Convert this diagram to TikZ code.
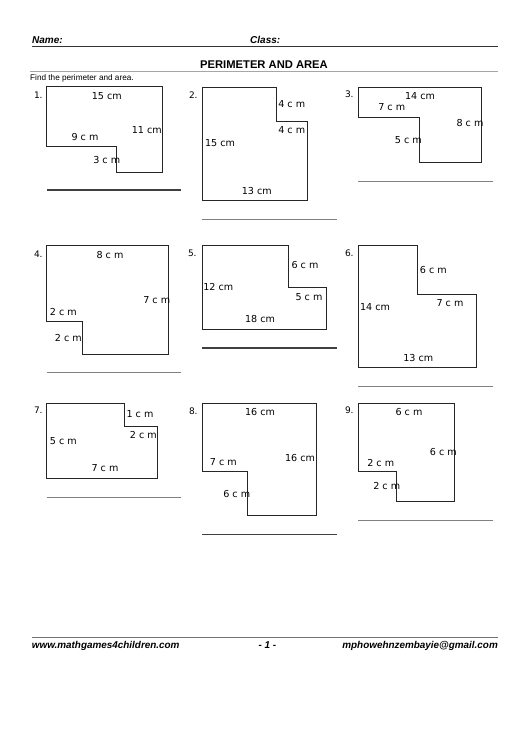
\documentclass[tikz,border=0pt]{standalone}
\usepackage{fontspec}
\setmainfont{DejaVu Sans}
\newfontfamily\headfont{Liberation Sans}
\begin{document}
\begin{tikzpicture}[x=1pt,y=-1pt,
  fig/.style={draw=black!85, line width=0.9pt, line join=miter},
  lab/.style={font=\fontsize{9.6}{11}\selectfont, inner sep=0pt},
  num/.style={font=\fontsize{9}{11}\selectfont, inner sep=0pt},
  hdr/.style={font=\headfont\bfseries\itshape\fontsize{10}{12}\selectfont, inner sep=0pt},
  ftr/.style={font=\headfont\bfseries\itshape\fontsize{9.9}{12}\selectfont, inner sep=0pt},
  ansl/.style={line width=0.9pt, draw=black!50},
  ansd/.style={line width=1.1pt, draw=black!75},
]
\useasboundingbox[fill=white] (0,0) rectangle (530,749);

% header
\node[hdr, anchor=west] (name) at (32,40) {Name:};
\node[hdr, anchor=west] (class) at (250,40) {Class:};
\draw[line width=1pt, black!80] (32,46.7) -- (498,46.7);
\node[font=\headfont\bfseries\fontsize{11.2}{13}\selectfont, inner sep=0pt] (title) at (264,64.5) {PERIMETER AND AREA};
\draw[line width=1.5pt, black!35] (30,71.7) -- (498,71.7);
\node[anchor=west, font=\headfont\fontsize{8.2}{10}\selectfont, inner sep=0pt] (instr) at (30,78) {Find the perimeter and area.};

% 1
\node[num] (n1) at (38.3,95) {1.};
\draw[fig] (46.7,86.7) -- (162.7,86.7) -- (162.7,172.3) -- (116,172.3) -- (116,146.7) -- (46.7,146.7) -- cycle;
\node[lab] (l1a) at (106.7,95.7) {15 cm};
\node[lab] (l1b) at (146.7,130) {11 cm};
\node[lab] (l1c) at (85,136.7) {9 c m};
\node[lab] (l1d) at (106.7,160) {3 c m};
\draw[ansd] (46.7,190) -- (180.7,190);

% 2
\node[num] (n2) at (193.3,95) {2.};
\draw[fig] (202.3,87.3) -- (276,87.3) -- (276,121.7) -- (307.3,121.7) -- (307.3,200) -- (202.3,200) -- cycle;
\node[lab] (l2a) at (291.7,104) {4 c m};
\node[lab] (l2b) at (291.7,130) {4 c m};
\node[lab] (l2c) at (220,143.3) {15 cm};
\node[lab] (l2d) at (256.7,191) {13 cm};
\draw[ansl] (202.3,219.3) -- (336.7,219.3);

% 3
\node[num] (n3) at (349.3,94) {3.};
\draw[fig] (358.3,87.3) -- (481,87.3) -- (481,162.3) -- (419,162.3) -- (419,117.3) -- (358.3,117.3) -- cycle;
\node[lab] (l3a) at (420,95.7) {14 cm};
\node[lab] (l3b) at (391.7,107.3) {7 c m};
\node[lab] (l3c) at (470,123.3) {8 c m};
\node[lab] (l3d) at (408.3,140) {5 c m};
\draw[ansl] (358.3,181) -- (492.7,181);

% 4
\node[num] (n4) at (38.3,254) {4.};
\draw[fig] (46.7,245.7) -- (168.3,245.7) -- (168.3,354) -- (82.7,354) -- (82.7,321) -- (46.7,321) -- cycle;
\node[lab] (l4a) at (110,255) {8 c m};
\node[lab] (l4b) at (156.7,300) {7 c m};
\node[lab] (l4c) at (63.3,311.7) {2 c m};
\node[lab] (l4d) at (68.3,338.3) {2 c m};
\draw[ansl] (46.7,372.3) -- (180.7,372.3);

% 5
\node[num] (n5) at (192.3,253.3) {5.};
\draw[fig] (202.3,245.7) -- (288.3,245.7) -- (288.3,287.3) -- (326.7,287.3) -- (326.7,329) -- (202.3,329) -- cycle;
\node[lab] (l5a) at (305,265) {6 c m};
\node[lab] (l5b) at (218.3,287.3) {12 cm};
\node[lab] (l5c) at (309,296.7) {5 c m};
\node[lab] (l5d) at (260,319.3) {18 cm};
\draw[ansd, line width=1.6pt] (202.3,347.7) -- (336.7,347.7);

% 6
\node[num] (n6) at (349.3,253.3) {6.};
\draw[fig] (358.3,245.7) -- (417.7,245.7) -- (417.7,294.3) -- (476.7,294.3) -- (476.7,367.7) -- (358.3,367.7) -- cycle;
\node[lab] (l6a) at (433.3,270) {6 c m};
\node[lab] (l6b) at (450,303.3) {7 c m};
\node[lab] (l6c) at (375,306.7) {14 cm};
\node[lab] (l6d) at (418.3,358.3) {13 cm};
\draw[ansl] (358.3,386.7) -- (492.7,386.7);

% 7
\node[num] (n7) at (38.3,410) {7.};
\draw[fig] (46.7,403.3) -- (124.3,403.3) -- (124.3,426.7) -- (157.3,426.7) -- (157.3,478.3) -- (46.7,478.3) -- cycle;
\node[lab] (l7a) at (140,414.3) {1 c m};
\node[lab] (l7b) at (143.3,435) {2 c m};
\node[lab] (l7c) at (63.3,440.7) {5 c m};
\node[lab] (l7d) at (105,467.7) {7 c m};
\draw[ansl] (46.7,497.3) -- (180.7,497.3);

% 8
\node[num] (n8) at (193.3,411) {8.};
\draw[fig] (202.3,403.3) -- (316.7,403.3) -- (316.7,515.7) -- (247.7,515.7) -- (247.7,471) -- (202.3,471) -- cycle;
\node[lab] (l8a) at (260,412.3) {16 cm};
\node[lab] (l8b) at (300,458.3) {16 cm};
\node[lab] (l8c) at (223.3,461.7) {7 c m};
\node[lab] (l8d) at (236.7,494) {6 c m};
\draw[ansd] (202.3,534.3) -- (336.7,534.3);

% 9
\node[num] (n9) at (349.3,410) {9.};
\draw[fig] (358.3,403.3) -- (454.3,403.3) -- (454.3,501) -- (396.7,501) -- (396.7,471.7) -- (358.3,471.7) -- cycle;
\node[lab] (l9a) at (409,411.7) {6 c m};
\node[lab] (l9b) at (443.3,451.7) {6 c m};
\node[lab] (l9c) at (380.7,462.7) {2 c m};
\node[lab] (l9d) at (386.7,485.7) {2 c m};
\draw[ansl] (358.3,520) -- (492.7,520);

% footer
\draw[line width=1.5pt, black!55] (31.7,637.3) -- (498,637.3);
\node[ftr, anchor=west] (web) at (31.7,645.5) {www.mathgames4children.com};
\node[ftr] (page) at (267.5,645.5) {- 1 -};
\node[ftr, anchor=east] (mail) at (498,645.5) {mphowehnzembayie@gmail.com};
\end{tikzpicture}
\end{document}
